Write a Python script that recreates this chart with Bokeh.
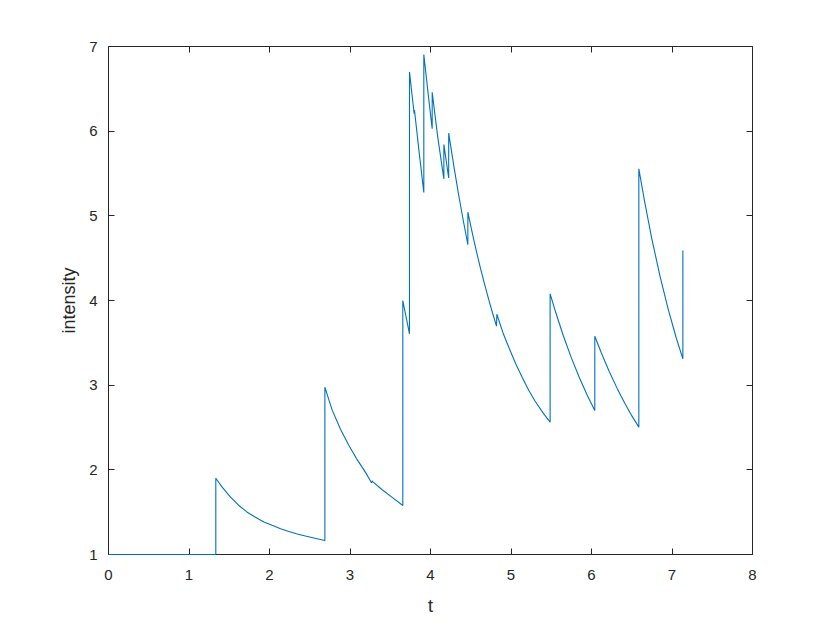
from bokeh.plotting import figure
from bokeh.models import LinearAxis, Range1d, FixedTicker, CustomJSTickFormatter
from bokeh.embed import file_html
from bokeh.resources import INLINE

# time points (jumps appear as repeated times)
t_vals = [0.0, 1.333, 1.333, 1.412, 1.516, 1.619, 1.723, 1.826, 1.930, 2.033, 2.137, 2.240,
          2.344, 2.447, 2.551, 2.688, 2.688, 2.730, 2.779, 2.882, 2.985, 3.089, 3.193, 3.267,
          3.275, 3.284, 3.400, 3.524, 3.656, 3.656, 3.739, 3.739, 3.797, 3.801, 3.860, 3.917,
          3.917, 3.970, 4.021, 4.021, 4.090, 4.166, 4.166, 4.226, 4.226, 4.290, 4.350, 4.410,
          4.464, 4.464, 4.500, 4.538, 4.580, 4.621, 4.670, 4.725, 4.770, 4.820, 4.824, 4.900,
          4.980, 5.060, 5.140, 5.220, 5.300, 5.400, 5.486, 5.486, 5.560, 5.650, 5.750, 5.850,
          5.950, 6.041, 6.041, 6.120, 6.220, 6.320, 6.420, 6.500, 6.588, 6.588, 6.660, 6.750,
          6.850, 6.950, 7.050, 7.135, 7.135]
intensity = [1.000, 1.000, 1.901, 1.795, 1.677, 1.579, 1.500, 1.440, 1.385, 1.345, 1.305, 1.272,
             1.243, 1.218, 1.195, 1.165, 2.976, 2.850, 2.705, 2.480, 2.290, 2.120, 1.970, 1.847,
             1.870, 1.858, 1.765, 1.675, 1.579, 4.000, 3.607, 6.700, 6.205, 6.250, 5.740, 5.275,
             6.905, 6.450, 6.028, 6.460, 5.930, 5.437, 5.842, 5.447, 5.976, 5.588, 5.244, 4.930,
             4.661, 5.043, 4.881, 4.716, 4.543, 4.380, 4.199, 4.004, 3.855, 3.697, 3.838, 3.620,
             3.430, 3.250, 3.090, 2.940, 2.810, 2.670, 2.563, 4.079, 3.846, 3.584, 3.322, 3.087,
             2.875, 2.701, 3.578, 3.385, 3.161, 2.959, 2.775, 2.640, 2.504, 5.555, 5.167, 4.726,
             4.291, 3.907, 3.566, 3.311, 4.590]

x_ticks = [0, 1, 2, 3, 4, 5, 6, 7, 8]
y_ticks = [1, 2, 3, 4, 5, 6, 7]

FONT = "Liberation Sans"
AX = "#262626"

p = figure(width=822, height=617, output_backend="svg", toolbar_location=None,
           x_range=Range1d(0, 8), y_range=Range1d(1, 7),
           min_border_left=108, min_border_right=70, min_border_top=46, min_border_bottom=63)
p.frame_width = 644
p.frame_height = 508
p.grid.visible = False
p.outline_line_color = None
p.background_fill_color = "white"
p.border_fill_color = "white"

p.line(t_vals, intensity, line_color="#0072BD", line_width=1.1, level="overlay")

def style(ax, ticks, labels=True):
    ax.ticker = FixedTicker(ticks=ticks)
    ax.axis_line_color = AX
    ax.axis_line_width = 1
    ax.major_tick_line_color = AX
    ax.major_tick_in = 6
    ax.major_tick_out = 0
    ax.minor_tick_line_color = None
    ax.major_label_text_font = FONT
    ax.major_label_text_color = AX
    ax.major_label_text_font_size = "15px"
    if not labels:
        ax.formatter = CustomJSTickFormatter(code="return ''")
        ax.major_label_standoff = 0

style(p.xaxis[0], x_ticks)
style(p.yaxis[0], y_ticks)
p.xaxis[0].major_label_standoff = 15
p.yaxis[0].major_label_standoff = 11
p.xaxis[0].axis_label = "t"
p.yaxis[0].axis_label = "intensity"
for ax in (p.xaxis[0], p.yaxis[0]):
    ax.axis_label_text_font = FONT
    ax.axis_label_text_font_size = "18px"
    ax.axis_label_text_font_style = "normal"
    ax.axis_label_text_color = AX
p.xaxis[0].axis_label_standoff = 13
p.yaxis[0].axis_label_standoff = 7

top = LinearAxis()
right = LinearAxis()
style(top, x_ticks, labels=False)
style(right, y_ticks, labels=False)
p.add_layout(top, "above")
p.add_layout(right, "right")

open("out.html", "w").write(file_html(p, INLINE))
